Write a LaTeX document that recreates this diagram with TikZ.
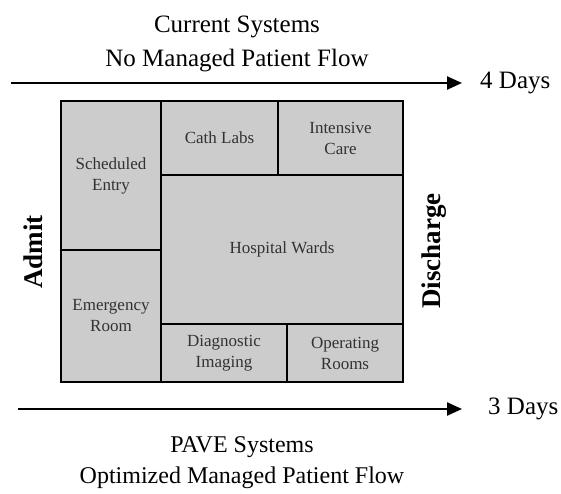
\documentclass[tikz,border=0pt]{standalone}
\usepackage{fontspec}
\setmainfont{Liberation Serif}
\usetikzlibrary{positioning,arrows.meta}
\definecolor{RoomGray}{RGB}{204,204,204}
\definecolor{LabelGray}{RGB}{50,50,50}
\tikzset{
  room/.style={draw=black,line width=2.8pt,fill=RoomGray,inner sep=0pt,align=center,
    text=LabelGray,font=\fontsize{17}{21}\selectfont},
  flow/.style={line width=2.4pt,-{Triangle[length=15pt,width=13pt]}},
  caption/.style={align=center,inner sep=0pt},
  daylabel/.style={inner sep=0pt,font=\fontsize{25}{30}\selectfont},
  side/.style={rotate=90,inner sep=0pt,font=\fontsize{27}{30}\selectfont\bfseries}
}

\begin{document}
\begin{tikzpicture}[x=1pt,y=-1pt]
  \useasboundingbox (0,0) rectangle (561,493);

  % current systems, top
  \node[caption,font=\fontsize{25}{34}\selectfont] (curtitle) at (237,43.5)
    {Current Systems\\No Managed Patient Flow};
  \coordinate (curstart) at (11,83);
  \coordinate (curend) at (462,83);
  \draw[flow] (curstart) -- (curend);
  \node[daylabel,right=18pt of curend] (curdays) {4 Days};

  % departments
  \node[room,minimum width=100pt,minimum height=149pt] (sched) at (111,175.5) {Scheduled\\Entry};
  \node[room,minimum width=100pt,minimum height=132pt] (emerg) at (111,316) {Emergency\\Room};
  \node[room,minimum width=117pt,minimum height=74pt] (cath) at (219.5,138) {Cath Labs};
  \node[room,minimum width=125pt,minimum height=74pt] (icu) at (340.5,138) {Intensive\\Care};
  \node[room,minimum width=242pt,minimum height=149pt] (wards) at (282,249.5) {Hospital Wards};
  \node[room,minimum width=126pt,minimum height=58pt] (imaging) at (224,353) {Diagnostic\\Imaging};
  \node[room,minimum width=116pt,minimum height=58pt] (oper) at (345,353) {Operating\\Rooms};

  \node[side] (admit) at (33,252) {Admit};
  \node[side] (discharge) at (434,251) {Discharge};

  % PAVE systems, bottom
  \coordinate (pavestart) at (18,409);
  \coordinate (paveend) at (462,409);
  \draw[flow] (pavestart) -- (paveend);
  \node[daylabel,right=26pt of paveend] (pavedays) {3 Days};
  \node[caption,font=\fontsize{24}{31}\selectfont] (pavetitle) at (242,463)
    {PAVE Systems\\Optimized Managed Patient Flow};
\end{tikzpicture}
\end{document}
